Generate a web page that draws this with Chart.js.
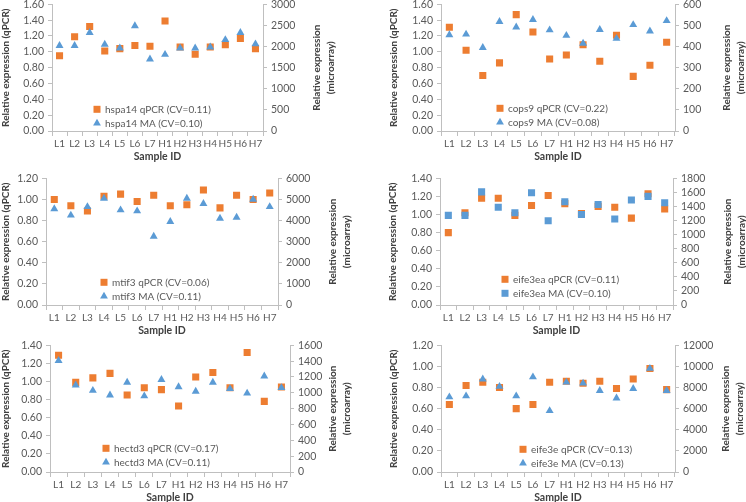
<!DOCTYPE html>
<html>
<head>
<meta charset="utf-8">
<script src="https://cdn.jsdelivr.net/npm/chart.js@4.4.0/dist/chart.umd.min.js"></script>
<style>
  body { margin: 0; background: #fff; width: 746px; height: 502px; position: relative; overflow: hidden; }
  canvas { position: absolute; }
</style>
</head>
<body>
<canvas id="c1"></canvas>
<canvas id="c2"></canvas>
<canvas id="c3"></canvas>
<canvas id="c4"></canvas>
<canvas id="c5"></canvas>
<canvas id="c6"></canvas>
<script>
// Sample IDs along the x axis
const sampleIds = ['L1', 'L2', 'L3', 'L4', 'L5', 'L6', 'L7', 'H1', 'H2', 'H3', 'H4', 'H5', 'H6', 'H7'];

// hspa14
const hspa14Qpcr = [0.95, 1.19, 1.32, 1.01, 1.04, 1.08, 1.07, 1.39, 1.06, 0.97, 1.06, 1.09, 1.17, 1.04];
const hspa14Ma = [2020, 2020, 2330, 2050, 1960, 2490, 1700, 1810, 1960, 1960, 1985, 2160, 2330, 2060];
const hspa14Labels = ['hspa14 qPCR (CV=0.11)', 'hspa14 MA (CV=0.10)'];

// cops9
const cops9Qpcr = [1.31, 1.02, 0.70, 0.86, 1.47, 1.25, 0.91, 0.96, 1.09, 0.88, 1.21, 0.69, 0.83, 1.12];
const cops9Ma = [455, 458, 395, 518, 492, 527, 478, 452, 415, 480, 438, 503, 473, 522];
const cops9Labels = ['cops9 qPCR (CV=0.22)', 'cops9 MA (CV=0.08)'];

// mtif3
const mtif3Qpcr = [1.00, 0.94, 0.89, 1.03, 1.05, 0.98, 1.04, 0.94, 0.95, 1.09, 0.92, 1.04, 1.00, 1.06];
const mtif3Ma = [4550, 4250, 4650, 5050, 4500, 4450, 3250, 3950, 5050, 4800, 4100, 4150, 5000, 4650];
const mtif3Labels = ['mtif3 qPCR (CV=0.06)', 'mtif3 MA (CV=0.11)'];

// eife3ea
const eife3eaQpcr = [0.80, 1.02, 1.18, 1.18, 0.99, 1.10, 1.21, 1.12, 1.01, 1.09, 1.08, 0.96, 1.23, 1.06];
const eife3eaMa = [1273, 1273, 1607, 1389, 1311, 1594, 1196, 1466, 1286, 1427, 1221, 1491, 1543, 1453];
const eife3eaLabels = ['eife3ea qPCR (CV=0.11)', 'eife3ea MA (CV=0.10)'];

// hectd3
const hectd3Qpcr = [1.29, 0.99, 1.04, 1.09, 0.85, 0.93, 0.91, 0.73, 1.05, 1.10, 0.93, 1.32, 0.78, 0.94];
const hectd3Ma = [1406, 1097, 1029, 971, 1131, 960, 1166, 1074, 1017, 1131, 1051, 994, 1211, 1063];
const hectd3Labels = ['hectd3 qPCR (CV=0.17)', 'hectd3 MA (CV=0.11)'];

// eife3e
const eife3eQpcr = [0.64, 0.82, 0.85, 0.80, 0.60, 0.64, 0.85, 0.86, 0.84, 0.86, 0.79, 0.88, 0.98, 0.78];
const eife3eMa = [7100, 7200, 8800, 8100, 7200, 9000, 5800, 8500, 8400, 7700, 7000, 7900, 9800, 7700];
const eife3eLabels = ['eife3e qPCR (CV=0.13)', 'eife3e MA (CV=0.13)'];

// axis ranges per panel
const leftMax = [1.6, 1.6, 1.2, 1.4, 1.4, 1.2];
const rightMax = [3000, 600, 6000, 1800, 1600, 12000];
const rightStep = [500, 100, 1000, 200, 200, 2000];
const rightTitle = ['Relative expression', '(microarray)'];

const ORANGE = '#ED7D31';
const BLUE = '#5B9BD5';
const AXIS = '#BFBFBF';
const TICK_TEXT = '#595959';
const TITLE_TEXT = '#404040';
const FONT = 'Lato';

// Draws the small legend inside the plot area and the right axis title
const panelExtras = {
    id: 'panelExtras',
    afterDraw(chart, args, opts) {
        const ctx = chart.ctx;
        const area = chart.chartArea;
        const x = area.left + opts.x;
        let y = area.top + opts.y;
        ctx.save();
        ctx.font = '10px ' + FONT;
        ctx.textBaseline = 'middle';
        chart.data.datasets.forEach(ds => {
            ctx.fillStyle = ds.backgroundColor;
            if (ds.pointStyle === 'triangle') {
                ctx.beginPath();
                ctx.moveTo(x, y - 4.5);
                ctx.lineTo(x + 3.9, y + 2.3);
                ctx.lineTo(x - 3.9, y + 2.3);
                ctx.closePath();
                ctx.fill();
            } else {
                ctx.fillRect(x - 3.5, y - 3.5, 7, 7);
            }
            ctx.fillStyle = TICK_TEXT;
            ctx.textAlign = 'left';
            ctx.fillText(ds.label, x + 8, y);
            y += 14;
        });

        // right title, reading bottom to top like the left one
        ctx.translate(area.right + opts.rt, (area.top + area.bottom) / 2);
        ctx.rotate(-Math.PI / 2);
        ctx.font = 'bold 10px ' + FONT;
        ctx.fillStyle = TITLE_TEXT;
        ctx.textAlign = 'center';
        ctx.fillText(rightTitle[0], 0, 0);
        ctx.fillText(rightTitle[1], 0, 13.5);
        ctx.restore();
    }
};

const panels = [
    { id: 'c1', cl: 0,   l: 52,  r: 263, t: 4,   b: 131, q: hspa14Qpcr,  m: hspa14Ma,  labels: hspa14Labels,  maStyle: 'triangle', lx: 45, ly: 105, rt: 54 },
    { id: 'c2', cl: 388, l: 441, r: 675, t: 4,   b: 131, q: cops9Qpcr,   m: cops9Ma,   labels: cops9Labels,   maStyle: 'triangle', lx: 59, ly: 104, rt: 52 },
    { id: 'c3', cl: 0,   l: 46,  r: 278, t: 178, b: 305, q: mtif3Qpcr,   m: mtif3Ma,   labels: mtif3Labels,   maStyle: 'triangle', lx: 58, ly: 104, rt: 55 },
    { id: 'c4', cl: 387, l: 440, r: 673, t: 178, b: 305, q: eife3eaQpcr, m: eife3eaMa, labels: eife3eaLabels, maStyle: 'rect',     lx: 65, ly: 101, rt: 55 },
    { id: 'c5', cl: 0,   l: 50,  r: 290, t: 345, b: 472, q: hectd3Qpcr,  m: hectd3Ma,  labels: hectd3Labels,  maStyle: 'triangle', lx: 56, ly: 103, rt: 43 },
    { id: 'c6', cl: 388, l: 441, r: 675, t: 345, b: 472, q: eife3eQpcr,  m: eife3eMa,  labels: eife3eLabels,  maStyle: 'triangle', lx: 82, ly: 104, rt: 51 }
];

const PAD_TOP = 10;
const X_AXIS_H = 32;

panels.forEach((p, i) => {
    const canvas = document.getElementById(p.id);
    const cr = Math.min(746, p.r + p.rt + 24);
    const w = cr - p.cl;
    const top = p.t - PAD_TOP;
    const h = p.b - top + X_AXIS_H;
    canvas.width = w;
    canvas.height = h;
    canvas.style.left = p.cl + 'px';
    canvas.style.top = top + 'px';
    canvas.style.width = w + 'px';
    canvas.style.height = h + 'px';

    new Chart(canvas.getContext('2d'), {
        type: 'line',
        data: {
            labels: sampleIds,
            datasets: [
                {
                    label: p.labels[0],
                    data: p.q,
                    yAxisID: 'y',
                    showLine: false,
                    pointStyle: 'rect',
                    pointRadius: 5,
                    backgroundColor: ORANGE,
                    borderColor: ORANGE,
                    borderWidth: 0,
                    order: 2
                },
                {
                    label: p.labels[1],
                    data: p.m,
                    yAxisID: 'y1',
                    showLine: false,
                    pointStyle: p.maStyle,
                    pointRadius: p.maStyle === 'rect' ? 5 : 4.6,
                    backgroundColor: BLUE,
                    borderColor: BLUE,
                    borderWidth: 0,
                    order: 1
                }
            ]
        },
        options: {
            responsive: false,
            animation: false,
            events: [],
            layout: {
                padding: { top: PAD_TOP, left: 0, right: 0, bottom: 0 }
            },
            plugins: {
                legend: { display: false },
                tooltip: { enabled: false },
                panelExtras: { x: p.lx, y: p.ly, rt: p.rt }
            },
            scales: {
                x: {
                    type: 'category',
                    offset: true,
                    grid: {
                        offset: true,
                        drawOnChartArea: false,
                        tickLength: 5,
                        color: AXIS
                    },
                    border: { color: AXIS },
                    ticks: {
                        color: TICK_TEXT,
                        font: { family: FONT, size: 10 },
                        padding: 2,
                        maxRotation: 0,
                        autoSkip: false
                    },
                    title: {
                        display: true,
                        text: 'Sample ID',
                        color: TITLE_TEXT,
                        font: { family: FONT, size: 10.5, weight: 'bold' },
                        padding: { top: 0, bottom: 0 }
                    },
                    afterFit: s => { s.height = X_AXIS_H; }
                },
                y: {
                    position: 'left',
                    min: 0,
                    max: leftMax[i],
                    grid: {
                        drawOnChartArea: false,
                        tickLength: 4,
                        color: AXIS
                    },
                    border: { color: AXIS },
                    ticks: {
                        stepSize: 0.2,
                        autoSkip: false,
                        color: TICK_TEXT,
                        font: { family: FONT, size: 10.5 },
                        padding: 4,
                        callback: v => v.toFixed(2)
                    },
                    title: {
                        display: true,
                        text: 'Relative expression (qPCR)',
                        color: TITLE_TEXT,
                        font: { family: FONT, size: 10, weight: 'bold' },
                        padding: { top: 0, bottom: 0 }
                    },
                    afterFit: s => { s.width = p.l - p.cl; }
                },
                y1: {
                    position: 'right',
                    min: 0,
                    max: rightMax[i],
                    grid: {
                        drawOnChartArea: false,
                        tickLength: 4,
                        color: AXIS
                    },
                    border: { color: AXIS },
                    ticks: {
                        stepSize: rightStep[i],
                        autoSkip: false,
                        color: TICK_TEXT,
                        font: { family: FONT, size: 10.5 },
                        padding: 4,
                        callback: v => String(v)
                    },
                    title: { display: false },
                    afterFit: s => { s.width = cr - p.r; }
                }
            }
        },
        plugins: [panelExtras]
    });
});
</script>
</body>
</html>
